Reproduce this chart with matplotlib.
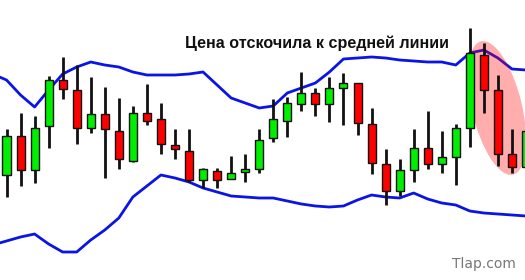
import numpy as np
import matplotlib
matplotlib.use("Agg")
import matplotlib.pyplot as plt
from matplotlib.patches import Ellipse, Rectangle
from matplotlib.transforms import IdentityTransform

# candle data (price units, larger = higher)
opens = [105, 144, 110, 154, 200, 190, 152, 166, 149, 119, 167, 161, 135,
         129, 100, 109, 101, 108, 111, 142, 159, 176, 187, 176, 192, 197,
         156, 116, 89, 110, 132, 116, 123, 152, 225, 190, 126, 113]
closes = [144, 110, 152, 200, 191, 152, 166, 151, 121, 167, 159, 136, 131,
          100, 111, 100, 107, 111, 140, 161, 177, 187, 176, 192, 197, 157,
          117, 89, 110, 132, 116, 123, 152, 227, 190, 126, 113, 149]
highs = [151, 167, 164, 204, 223, 215, 203, 193, 182, 174, 196, 177, 151,
         151, 112, 112, 124, 126, 151, 181, 183, 208, 192, 203, 207, 197,
         172, 131, 121, 151, 169, 149, 156, 252, 237, 205, 151, 149]
lows = [83, 94, 97, 132, 181, 136, 147, 102, 111, 118, 155, 126, 121,
        98, 92, 92, 101, 98, 107, 138, 143, 169, 164, 158, 155, 145,
        106, 75, 84, 98, 111, 107, 95, 133, 167, 114, 107, 100]

# bollinger bands (index -1 .. 37)
upper = [206, 200, 185, 173, 190, 206, 213, 218, 215, 213, 208, 205, 205,
         205, 206, 208, 195, 182, 177, 172, 174, 187, 192, 197, 208, 221,
         222, 223, 222, 220, 219, 218, 218, 215, 227, 230, 222, 211, 210]
lower = [35, 39, 43, 46, 36, 28, 28, 40, 50, 62, 83, 94, 105, 102, 98,
         92, 88, 84, 83, 82, 82, 79, 76, 74, 73, 74, 80, 85, 83, 82, 87,
         81, 77, 75, 69, 67, 66, 65, 64]

title = "Цена отскочила к средней линии"
watermark = "Tlap.com"

fig = plt.figure(figsize=(5.25, 2.8), dpi=100)
ax = fig.add_axes([0, 0, 1, 1])
ax.set_xlim(-0.463, 36.93)
ax.set_ylim(0, 280)
ax.axis("off")

band_x = np.arange(-1, len(upper) - 1)
ax.plot(band_x, upper, color="#0a14e6", lw=2.0, zorder=1)
ax.plot(band_x, lower, color="#0a14e6", lw=2.0, zorder=1)

# highlighted area
ax.add_patch(Ellipse((497, 172), 50, 137, angle=13.5, transform=IdentityTransform(),
                     facecolor="#ff0000", alpha=0.32, edgecolor="none", zorder=2))

w = 0.57
for i, (o, c, h, l) in enumerate(zip(opens, closes, highs, lows)):
    ax.plot([i, i], [l, h], color="#111111", lw=2.0, zorder=3, solid_capstyle="butt")
    col = "#00ee00" if c >= o else "#ff0000"
    ax.add_patch(Rectangle((i - w / 2, min(o, c)), w, max(abs(c - o), 1.5),
                           facecolor=col, edgecolor="#111111", lw=1.0, zorder=4))

fig.text(185 / 525, 1 - 43 / 280, title, fontsize=11.6, fontweight="bold",
         family="Liberation Sans", va="center", ha="left", color="#111111")
fig.text(452 / 525, 1 - 264 / 280, watermark, fontsize=10, family="DejaVu Sans",
         va="center", ha="left", color="#777777")

fig.savefig("out.png", dpi=100)
